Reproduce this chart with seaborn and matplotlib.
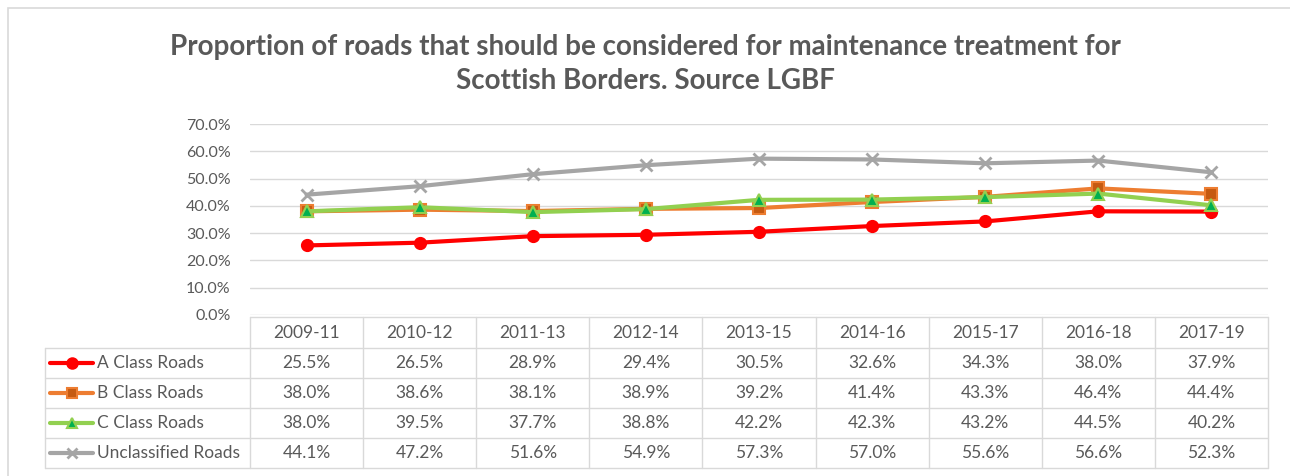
import numpy as np
import pandas as pd
import matplotlib
matplotlib.use("Agg")
import matplotlib.pyplot as plt
import seaborn as sns
from matplotlib.patches import Rectangle
from matplotlib.lines import Line2D

# Dados
periods = ["2009-11", "2010-12", "2011-13", "2012-14", "2013-15",
           "2014-16", "2015-17", "2016-18", "2017-19"]
a_class = [25.5, 26.5, 28.9, 29.4, 30.5, 32.6, 34.3, 38.0, 37.9]
b_class = [38.0, 38.6, 38.1, 38.9, 39.2, 41.4, 43.3, 46.4, 44.4]
c_class = [38.0, 39.5, 37.7, 38.8, 42.2, 42.3, 43.2, 44.5, 40.2]
unclassified = [44.1, 47.2, 51.6, 54.9, 57.3, 57.0, 55.6, 56.6, 52.3]
series_names = ["A Class Roads", "B Class Roads", "C Class Roads", "Unclassified Roads"]
y_ticks = [0, 10, 20, 30, 40, 50, 60, 70]

title = ("Proportion of roads that should be considered for maintenance treatment for\n"
         "Scottish Borders. Source LGBF")

# Estilo
sns.set_theme(style="white")
plt.rcParams["font.family"] = ["Lato", "DejaVu Sans"]
TXT = "#595959"
GRID = "#d9d9d9"

styles = {
    "A Class Roads": dict(color="#ff0000", marker="o", mfc="#ff0000", mec="#ff0000", ms=8),
    "B Class Roads": dict(color="#ed7d31", marker="s", mfc="#c55a11", mec="#ed7d31", ms=8),
    "C Class Roads": dict(color="#92d050", marker="^", mfc="#00b050", mec="#92d050", ms=8),
    "Unclassified Roads": dict(color="#a5a5a5", marker="x", mfc="#a5a5a5", mec="#a5a5a5", ms=8),
}

df = pd.DataFrame({"Periodo": periods, "A Class Roads": a_class, "B Class Roads": b_class,
                   "C Class Roads": c_class, "Unclassified Roads": unclassified})
long = df.melt(id_vars="Periodo", var_name="Serie", value_name="Valor")

W, H = 1290, 476
fig = plt.figure(figsize=(W / 100, H / 100), dpi=100)

# Moldura do gráfico
fig.patches.append(Rectangle((8 / W, -0.1), 1.2, (H - 8) / H + 0.1, transform=fig.transFigure,
                             fill=False, edgecolor=GRID, linewidth=1.2))

fig.text(645 / W, 1 - 64 / H, title, ha="center", va="center", fontsize=20,
         fontweight="bold", color=TXT, linespacing=1.38)

# ============================
# Gráfico de linhas
# ============================
x0, x1 = 250, 1268
y_top, y_bot = 124, 315
ax = fig.add_axes([x0 / W, 1 - y_bot / H, (x1 - x0) / W, (y_bot - y_top) / H])

for name in series_names:
    st = styles[name]
    sub = long[long["Serie"] == name]
    sns.lineplot(data=sub, x="Periodo", y="Valor", ax=ax, color=st["color"], linewidth=3,
                 marker=st["marker"], markersize=st["ms"], markerfacecolor=st["mfc"],
                 markeredgecolor=st["mec"], markeredgewidth=1.5 if st["marker"] != "x" else 2,
                 legend=False, sort=False)

ax.set_xlim(-0.5, len(periods) - 0.5)
ax.set_ylim(0, 70)
ax.set_yticks(y_ticks)
ax.set_yticklabels([f"{v:.1f}%" for v in y_ticks], fontsize=11.5, color=TXT)
ax.tick_params(axis="y", length=0, pad=14)
ax.set_xticks([])
ax.set_xlabel("")
ax.set_ylabel("")
ax.grid(axis="y", color=GRID, linewidth=1)
for s in ax.spines.values():
    s.set_visible(False)

# ============================
# Tabela de dados
# ============================
leg_x = 45
row_edges = [317, 348, 378, 408, 438, 468]
col_w = (x1 - x0) / len(periods)
tab = fig.add_axes([0, 0, 1, 1], facecolor="none")
tab.set_xlim(0, W)
tab.set_ylim(H, 0)
tab.axis("off")

lw = 1
# linhas horizontais
tab.plot([x0, x1], [row_edges[0]] * 2, color=GRID, lw=lw)
for y in row_edges[1:]:
    tab.plot([leg_x, x1], [y, y], color=GRID, lw=lw)
# linhas verticais
tab.plot([leg_x, leg_x], [row_edges[1], row_edges[-1]], color=GRID, lw=lw)
for i in range(len(periods) + 1):
    tab.plot([x0 + i * col_w] * 2, [row_edges[0], row_edges[-1]], color=GRID, lw=lw)

FS = 12.5
for i, p in enumerate(periods):
    tab.text(x0 + (i + 0.5) * col_w, (row_edges[0] + row_edges[1]) / 2, p,
             ha="center", va="center", fontsize=FS, color=TXT)

all_series = [a_class, b_class, c_class, unclassified]
for r, (name, vals) in enumerate(zip(series_names, all_series)):
    yc = (row_edges[r + 1] + row_edges[r + 2]) / 2
    st = styles[name]
    tab.add_line(Line2D([50, 93], [yc, yc], color=st["color"], lw=3))
    tab.add_line(Line2D([71.5], [yc], marker=st["marker"], markersize=st["ms"] - 0.5,
                        markerfacecolor=st["mfc"], markeredgecolor=st["mec"],
                        markeredgewidth=1.5 if st["marker"] != "x" else 2, lw=0))
    tab.text(97, yc, name, ha="left", va="center", fontsize=FS, color=TXT)
    for i, v in enumerate(vals):
        tab.text(x0 + (i + 0.5) * col_w, yc, f"{v:.1f}%", ha="center", va="center",
                 fontsize=FS, color=TXT)

fig.savefig("out.png", dpi=100, facecolor="white")
